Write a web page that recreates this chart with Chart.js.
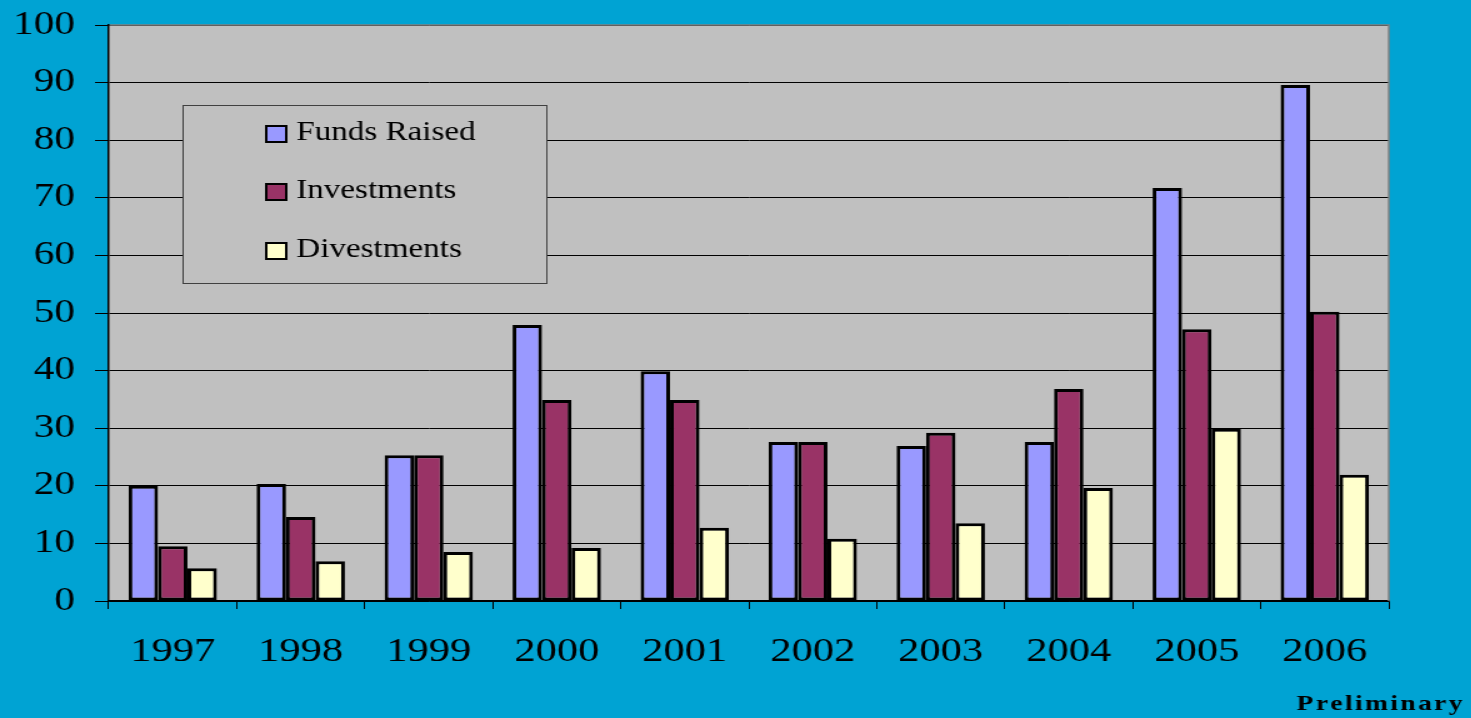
<!DOCTYPE html>
<html>
<head>
<meta charset="utf-8">
<script src="https://cdn.jsdelivr.net/npm/chart.js@4.4.0/dist/chart.umd.min.js"></script>
<style>
html,body{margin:0;padding:0;background:#00A3D3;overflow:hidden;width:1471px;height:718px;}
#wrap{position:absolute;left:0;top:0;width:1177px;height:718px;transform:scaleX(1.25);transform-origin:0 0;}
#c{display:block;}
</style>
</head>
<body>
<div id="wrap"><canvas id="c" width="1177" height="718"></canvas></div>
<script>
const years = ['1997','1998','1999','2000','2001','2002','2003','2004','2005','2006'];
const fundsRaised = [20.0, 20.3, 25.3, 47.9, 39.9, 27.6, 26.9, 27.6, 71.7, 89.6];
const investments = [9.5, 14.6, 25.3, 34.9, 34.9, 27.6, 29.2, 36.8, 47.2, 50.2];
const divestments = [5.7, 6.9, 8.5, 9.2, 12.7, 10.8, 13.5, 19.6, 29.9, 21.9];
const seriesNames = ['Funds Raised', 'Investments', 'Divestments'];
const seriesColors = ['#9999FF', '#993366', '#FFFFCC'];
const yTicks = [0,10,20,30,40,50,60,70,80,90,100];
const noteText = 'Preliminary';

const SERIF = "'Liberation Serif', 'Times New Roman', serif";
const BLUE = '#00A3D3';

const decor = {
  id: 'decor',
  beforeDraw(chart) {
    const {ctx, chartArea: a} = chart;
    ctx.save();
    ctx.fillStyle = BLUE;
    ctx.fillRect(0, 0, chart.width, chart.height);
    ctx.fillStyle = '#C0C0C0';
    ctx.fillRect(a.left, a.top, a.right - a.left, a.bottom - a.top);
    ctx.restore();
  },
  beforeDatasetsDraw(chart) {
    const {ctx} = chart;
    ctx.save();
    const bx = 146.5, by = 105.5, bw = 291, bh = 178;
    ctx.fillStyle = '#C0C0C0';
    ctx.fillRect(bx, by, bw, bh);
    ctx.strokeStyle = '#404040';
    ctx.lineWidth = 1;
    ctx.strokeRect(bx, by, bw, bh);
    const rows = [134, 192, 251];
    ctx.font = '26.5px ' + SERIF;
    ctx.textBaseline = 'middle';
    ctx.textAlign = 'left';
    chart.data.datasets.forEach((ds, i) => {
      const cy = rows[i];
      ctx.fillStyle = ds.backgroundColor;
      ctx.fillRect(213, cy - 8, 16, 16);
      ctx.strokeStyle = '#000';
      ctx.lineWidth = 2;
      ctx.strokeRect(213, cy - 8, 16, 16);
      ctx.fillStyle = '#000';
      ctx.fillText(ds.label, 237, cy - 1);
    });
    ctx.restore();
  },
  afterDraw(chart) {
    const {ctx, chartArea: a} = chart;
    ctx.save();
    ctx.strokeStyle = '#808080';
    ctx.lineWidth = 1.5;
    ctx.beginPath();
    ctx.moveTo(a.left + 1, a.top);
    ctx.lineTo(a.right, a.top);
    ctx.lineTo(a.right, a.bottom);
    ctx.stroke();
    ctx.font = 'bold 22px ' + SERIF;
    ctx.fillStyle = '#000';
    ctx.textBaseline = 'alphabetic';
    ctx.textAlign = 'left';
    const sp = 1.9;
    let total = 0;
    for (const ch of noteText) total += ctx.measureText(ch).width + sp;
    total -= sp;
    let x = 1170 - total;
    for (const ch of noteText) {
      ctx.fillText(ch, x, 710);
      x += ctx.measureText(ch).width + sp;
    }
    ctx.restore();
  }
};

new Chart(document.getElementById('c'), {
  type: 'bar',
  data: {
    labels: years,
    datasets: [
      {label: seriesNames[0], data: fundsRaised, backgroundColor: seriesColors[0]},
      {label: seriesNames[1], data: investments, backgroundColor: seriesColors[1]},
      {label: seriesNames[2], data: divestments, backgroundColor: seriesColors[2]}
    ].map(d => Object.assign(d, {borderColor: '#000', borderWidth: 3, borderSkipped: false, categoryPercentage: 0.69, barPercentage: 1.0}))
  },
  options: {
    responsive: false,
    animation: false,
    devicePixelRatio: 1,
    layout: {padding: {top: 25, right: 66, left: 0, bottom: 0}},
    plugins: {legend: {display: false}, tooltip: {enabled: false}},
    scales: {
      x: {
        grid: {display: true, drawOnChartArea: false, drawTicks: true, tickLength: 8, color: '#000', offset: true},
        border: {display: true, color: '#000', width: 1.5},
        ticks: {font: {family: SERIF, size: 34}, color: '#000', padding: 23, maxRotation: 0},
        afterFit(s) { s.height = 117; s.paddingLeft = 0; s.paddingRight = 0; }
      },
      y: {
        min: 0, max: 100,
        afterBuildTicks(s) { s.ticks = yTicks.map(v => ({value: v})); },
        grid: {color: '#000', lineWidth: 1, tickLength: 11, tickColor: '#000'},
        border: {display: true, color: '#000', width: 1.5},
        ticks: {font: {family: SERIF, size: 33}, color: '#000', padding: 16},
        afterFit(s) { s.width = 87; s.paddingTop = 0; s.paddingBottom = 0; }
      }
    }
  },
  plugins: [decor]
});
</script>
</body>
</html>
